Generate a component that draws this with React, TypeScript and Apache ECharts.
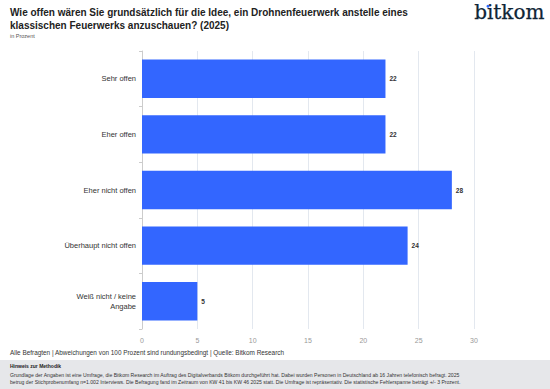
import React, { useEffect, useRef } from "react";
import * as echarts from "echarts";

const categories = [
  "Sehr offen",
  "Eher offen",
  "Eher nicht offen",
  "Überhaupt nicht offen",
  "Weiß nicht / keine Angabe",
];
const values = [22, 22, 28, 24, 5];
const xTicks = [0, 5, 10, 15, 20, 25, 30];

const titleText =
  "Wie offen wären Sie grundsätzlich für die Idee, ein Drohnenfeuerwerk anstelle eines\nklassischen Feuerwerks anzuschauen? (2025)";
const subtitleText = "in Prozent";
const sourceText =
  "Alle Befragten | Abweichungen von 100 Prozent sind rundungsbedingt | Quelle: Bitkom Research";
const methodTitle = "Hinweis zur Methodik";
const methodText =
  "Grundlage der Angaben ist eine Umfrage, die Bitkom Research im Auftrag des Digitalverbands Bitkom durchgeführt hat. Dabei wurden Personen in Deutschland ab 16 Jahren telefonisch befragt. 2025\nbetrug der Stichprobenumfang n=1.002 Interviews. Die Befragung fand im Zeitraum von KW 41 bis KW 46 2025 statt. Die Umfrage ist repräsentativ. Die statistische Fehlerspanne beträgt +/- 3 Prozent.";

const FONT = "Liberation Sans, Arial, sans-serif";

export default function App() {
  const ref = useRef<HTMLDivElement>(null);
  useEffect(() => {
    if (!ref.current) return;
    const chart = echarts.init(ref.current, undefined, { renderer: "svg" });
    chart.setOption({
      animation: false,
      backgroundColor: "#ffffff",
      textStyle: { fontFamily: FONT },
      grid: { left: 142, right: 76, top: 51, bottom: 60, containLabel: false },
      xAxis: {
        type: "value",
        min: xTicks[0],
        max: xTicks[xTicks.length - 1],
        interval: 5,
        axisLine: { show: false },
        axisTick: { show: false },
        axisLabel: { color: "#999999", fontSize: 7, margin: 8, fontFamily: FONT },
        splitLine: { lineStyle: { color: "#e3e8ef", width: 1 } },
      },
      yAxis: {
        type: "category",
        data: categories,
        inverse: true,
        axisLine: { show: true, lineStyle: { color: "#cccccc" } },
        axisTick: { show: true, length: 3, lineStyle: { color: "#cccccc" } },
        axisLabel: {
          color: "#333333",
          fontSize: 7.5,
          margin: 6,
          lineHeight: 10,
          fontFamily: FONT,
          formatter: (v: string) => v.replace(" keine ", " keine\n"),
        },
      },
      series: [
        {
          type: "bar",
          data: values,
          barCategoryGap: "31%",
          itemStyle: { color: "#3366ff" },
          label: {
            show: true,
            position: "right",
            distance: 4,
            color: "#333333",
            fontSize: 6.5,
            fontWeight: "bold",
            fontFamily: FONT,
          },
        },
      ],
      graphic: [
        {
          type: "text",
          left: 10,
          top: 6,
          style: {
            text: titleText,
            font: `bold 10px ${FONT}`,
            fill: "#222222",
            lineHeight: 13,
          },
        },
        {
          type: "text",
          left: 10,
          top: 33,
          style: { text: subtitleText, font: `5.5px ${FONT}`, fill: "#555555" },
        },
        {
          type: "text",
          left: 474,
          top: 2,
          style: {
            text: "bitkom",
            font: `20px "DejaVu Serif", serif`,
            fill: "#0f2536",
            stroke: "#0f2536",
            lineWidth: 0.25,
          },
        },
        {
          type: "circle",
          shape: { cx: 488, cy: 6.3, r: 1.5 },
          style: { fill: "#2f6bff" },
          z: 100,
        },
        {
          type: "text",
          left: 10,
          top: 349,
          style: { text: sourceText, font: `6.4px ${FONT}`, fill: "#333333" },
        },
        {
          type: "rect",
          left: 0,
          top: 360,
          shape: { width: 550, height: 29 },
          style: { fill: "#e6e7ea" },
        },
        {
          type: "text",
          left: 10,
          top: 363,
          style: { text: methodTitle, font: `bold 5px ${FONT}`, fill: "#222222" },
        },
        {
          type: "text",
          left: 10,
          top: 371,
          style: { text: methodText, font: `5.1px ${FONT}`, fill: "#333333", lineHeight: 7 },
        },
      ],
    });
    return () => chart.dispose();
  }, []);
  return <div ref={ref} style={{ width: 550, height: 389, position: "fixed", left: 0, top: 0 }} />;
}
